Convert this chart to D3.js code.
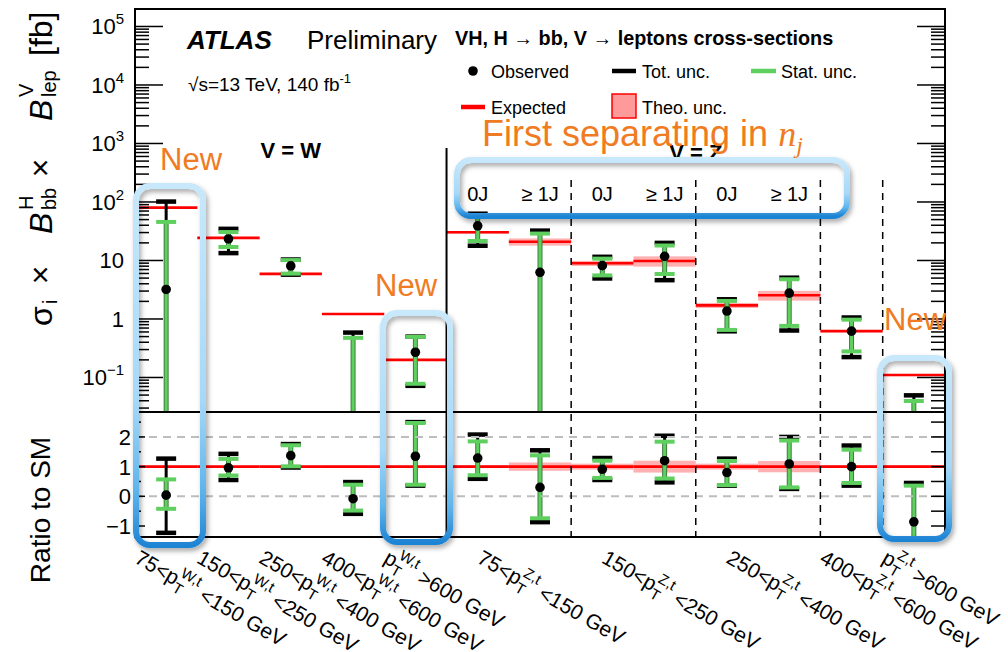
<!DOCTYPE html>
<html>
<head>
<meta charset="utf-8">
<script src="https://cdn.jsdelivr.net/npm/d3@7"></script>
<style>
  body { margin: 0; background: #fff; }
  svg { display: block; }
</style>
</head>
<body>
<script>
// bins: 5 W bins, 8 Z bins
const binNames = ["W 75-150", "W 150-250", "W 250-400", "W 400-600", "W >600",
  "Z 75-150 0J", "Z 75-150 1J", "Z 150-250 0J", "Z 150-250 1J",
  "Z 250-400 0J", "Z 250-400 1J", "Z 400-600", "Z >600"];
// expected cross-sections [fb]
const expected = [80, 24.3, 5.9, 1.22, 0.20, 30.3, 20.9, 8.96, 9.8, 1.71, 2.54, 0.62, 0.11];
// relative theory uncertainty
const theoUnc = [0.03, 0.03, 0.03, 0.03, 0.03, 0.05, 0.14, 0.10, 0.20, 0.10, 0.19, 0.04, 0.04];
// ratio to SM (observed) and uncertainty bounds
const mu = [0.04, 0.96, 1.37, -0.08, 1.35, 1.29, 0.30, 0.91, 1.20, 0.80, 1.09, 1.00, -0.86];
const totLo = [-1.23, 0.55, 0.97, -0.59, 0.36, 0.59, -0.87, 0.55, 0.47, 0.36, 0.25, 0.36, -2.4];
const totHi = [1.27, 1.43, 1.76, 0.48, 2.50, 2.08, 1.55, 1.29, 2.04, 1.27, 2.00, 1.71, 0.45];
const statLo = [-0.42, 0.70, 1.01, -0.48, 0.39, 0.71, -0.74, 0.62, 0.60, 0.38, 0.30, 0.45, -2.3];
const statHi = [0.57, 1.26, 1.72, 0.39, 2.47, 1.85, 1.38, 1.20, 1.84, 1.19, 1.88, 1.57, 0.36];

// x labels (bin-unit centres)
const labelPre = ["75<", "150<", "250<", "400<", "", "75<", "150<", "250<", "400<", ""];
const labelSup = ["W,t", "W,t", "W,t", "W,t", "W,t", "Z,t", "Z,t", "Z,t", "Z,t", "Z,t"];
const labelPost = [" <150 GeV", " <250 GeV", " <400 GeV", " <600 GeV", " >600 GeV",
  " <150 GeV", " <250 GeV", " <400 GeV", " <600 GeV", " >600 GeV"];
const labelPos = [0.5, 1.5, 2.5, 3.5, 4.5, 6, 8, 10, 11.5, 12.5];

const jetLabels = ["0J", "\u2265 1J", "0J", "\u2265 1J", "0J", "\u2265 1J"];
const jetBins = [5, 6, 7, 8, 9, 10];
const dashedEdges = [7, 9, 11, 12];

const upperTicks = [-1, 0, 1, 2, 3, 4, 5];
const ratioTicks = [-1, 0, 1, 2];

const FF = "'Liberation Sans', Arial, Helvetica, sans-serif";
const ORANGE = "#ef7b22";
const GREEN = "#5fd05f";

const L = 135, R = 945, T = 9, MID = 412, B = 537;

const svg = d3.select("body").append("svg")
  .attr("width", 1008).attr("height", 652)
  .style("font-family", FF);

const x = d3.scaleLinear().domain([0, 13]).range([L, R]);
const yUp = d3.scaleLog().domain([0.0257, 1.99e5]).range([MID, T]);
const yRat = d3.scaleLinear().domain([-1.37, 2.84]).range([B, MID]);

// defs
const defs = svg.append("defs");
const grad = defs.append("linearGradient").attr("id", "boxGrad")
  .attr("x1", 0).attr("y1", 0).attr("x2", 0).attr("y2", 1);
grad.append("stop").attr("offset", "0%").attr("stop-color", "#c8e8fb");
grad.append("stop").attr("offset", "60%").attr("stop-color", "#a6d8f7");
grad.append("stop").attr("offset", "85%").attr("stop-color", "#5db4ec");
grad.append("stop").attr("offset", "100%").attr("stop-color", "#1f84d4");
const filt = defs.append("filter").attr("id", "shadow")
  .attr("x", "-30%").attr("y", "-30%").attr("width", "160%").attr("height", "160%");
filt.append("feDropShadow").attr("dx", 2).attr("dy", 3).attr("stdDeviation", 2.5)
  .attr("flood-color", "#000").attr("flood-opacity", 0.35);
defs.append("clipPath").attr("id", "clipUp").append("rect")
  .attr("x", L).attr("y", T).attr("width", R - L).attr("height", MID - T);
defs.append("clipPath").attr("id", "clipLo").append("rect")
  .attr("x", L).attr("y", MID).attr("width", R - L).attr("height", B - MID);

// ---------- panels content ----------
function drawPanel(clipId, yFn, vals) {
  const g = svg.append("g").attr("clip-path", `url(#${clipId})`);
  // theory band
  g.selectAll(".band").data(vals).enter().append("rect")
    .attr("x", (d, i) => x(i)).attr("width", x(1) - x(0))
    .attr("y", d => yFn(d.expHi)).attr("height", d => yFn(d.expLo) - yFn(d.expHi))
    .attr("fill", "#ff9090").attr("opacity", 0.7);
  // expected line
  g.selectAll(".exp").data(vals).enter().append("line")
    .attr("x1", (d, i) => x(i)).attr("x2", (d, i) => x(i + 1))
    .attr("y1", d => yFn(d.exp)).attr("y2", d => yFn(d.exp))
    .attr("stroke", "#ff0000").attr("stroke-width", 2.6);
  return g;
}

function drawBars(g, yFn, vals) {
  const cx = (d, i) => x(i + 0.5);
  // total
  g.selectAll(".tot").data(vals).enter().append("line")
    .attr("x1", cx).attr("x2", cx)
    .attr("y1", d => yFn(d.totLo)).attr("y2", d => yFn(d.totHi))
    .attr("stroke", "#000").attr("stroke-width", 3);
  ["totLo", "totHi"].forEach(k => {
    g.selectAll(".c" + k).data(vals).enter().append("line")
      .attr("x1", (d, i) => cx(d, i) - 10).attr("x2", (d, i) => cx(d, i) + 10)
      .attr("y1", d => yFn(d[k])).attr("y2", d => yFn(d[k]))
      .attr("stroke", "#000").attr("stroke-width", 4.5);
  });
  // stat
  g.selectAll(".statO").data(vals).enter().append("line")
    .attr("x1", cx).attr("x2", cx)
    .attr("y1", d => yFn(d.statLo)).attr("y2", d => yFn(d.statHi))
    .attr("stroke", "#3f7d3f").attr("stroke-width", 5);
  g.selectAll(".stat").data(vals).enter().append("line")
    .attr("x1", cx).attr("x2", cx)
    .attr("y1", d => yFn(d.statLo)).attr("y2", d => yFn(d.statHi))
    .attr("stroke", GREEN).attr("stroke-width", 3);
  ["statLo", "statHi"].forEach(k => {
    g.selectAll(".c" + k).data(vals).enter().append("line")
      .attr("x1", (d, i) => cx(d, i) - 10).attr("x2", (d, i) => cx(d, i) + 10)
      .attr("y1", d => yFn(d[k])).attr("y2", d => yFn(d[k]))
      .attr("stroke", GREEN).attr("stroke-width", 4);
  });
}

function drawDots(g, yFn, vals) {
  g.selectAll(".dot").data(vals).enter().append("circle")
    .attr("cx", (d, i) => x(i + 0.5)).attr("cy", d => yFn(d.obs))
    .attr("r", 4.8).attr("fill", "#000");
}

// upper panel values (cross-section = expected x ratio)
const upVals = binNames.map((n, i) => ({
  exp: expected[i],
  expLo: expected[i] * (1 - theoUnc[i]), expHi: expected[i] * (1 + theoUnc[i]),
  obs: expected[i] * mu[i],
  totLo: expected[i] * totLo[i], totHi: expected[i] * totHi[i],
  statLo: expected[i] * statLo[i], statHi: expected[i] * statHi[i]
}));
const loVals = binNames.map((n, i) => ({
  exp: 1, expLo: 1 - theoUnc[i], expHi: 1 + theoUnc[i],
  obs: mu[i], totLo: totLo[i], totHi: totHi[i], statLo: statLo[i], statHi: statHi[i]
}));
const yUpSafe = v => v > 0 ? yUp(v) : MID + 40;

const gUp = drawPanel("clipUp", yUpSafe, upVals);
drawBars(gUp, yUpSafe, upVals);
drawDots(gUp, yUpSafe, upVals);

const gLo = drawPanel("clipLo", yRat, loVals);
drawBars(gLo, yRat, loVals);
// grey dashed lines at 0 and 2
gLo.selectAll(".ref").data([0, 2]).enter().append("line")
  .attr("x1", L).attr("x2", R).attr("y1", d => yRat(d)).attr("y2", d => yRat(d))
  .attr("stroke", "#bdbdbd").attr("stroke-width", 2).attr("stroke-dasharray", "8,6");
drawDots(gLo, yRat, loVals);

// ---------- separators ----------
svg.append("line").attr("x1", x(5)).attr("x2", x(5)).attr("y1", 148).attr("y2", B)
  .attr("stroke", "#000").attr("stroke-width", 2);
svg.selectAll(".dash").data(dashedEdges).enter().append("line")
  .attr("x1", d => x(d)).attr("x2", d => x(d)).attr("y1", 180).attr("y2", B)
  .attr("stroke", "#000").attr("stroke-width", 1.5).attr("stroke-dasharray", "7,6");

// ---------- frames and ticks ----------
svg.append("rect").attr("x", L).attr("y", T).attr("width", R - L).attr("height", B - T)
  .attr("fill", "none").attr("stroke", "#000").attr("stroke-width", 2);
svg.append("line").attr("x1", L).attr("x2", R).attr("y1", MID).attr("y2", MID)
  .attr("stroke", "#000").attr("stroke-width", 2);

const ticksG = svg.append("g").attr("stroke", "#000").attr("stroke-width", 1.5);
const minorUp = [];
for (let k = -2; k <= 5; k++) for (let m = 2; m <= 9; m++) {
  const v = m * Math.pow(10, k);
  if (v > yUp.domain()[0] && v < yUp.domain()[1]) minorUp.push(v);
}
upperTicks.forEach(k => {
  const yy = yUp(Math.pow(10, k));
  ticksG.append("line").attr("x1", L).attr("x2", L + 28).attr("y1", yy).attr("y2", yy);
  ticksG.append("line").attr("x1", R - 28).attr("x2", R).attr("y1", yy).attr("y2", yy);
});
minorUp.forEach(v => {
  const yy = yUp(v);
  ticksG.append("line").attr("x1", L).attr("x2", L + 14).attr("y1", yy).attr("y2", yy);
  ticksG.append("line").attr("x1", R - 14).attr("x2", R).attr("y1", yy).attr("y2", yy);
});
d3.range(-1, 3, 0.5).forEach(v => {
  const yy = yRat(v), major = Number.isInteger(v);
  ticksG.append("line").attr("x1", L).attr("x2", L + (major ? 10 : 6)).attr("y1", yy).attr("y2", yy);
  ticksG.append("line").attr("x1", R - 14).attr("x2", R).attr("y1", yy).attr("y2", yy);
});

// tick labels
upperTicks.forEach(k => {
  const t = svg.append("text").attr("x", 124).attr("y", yUp(Math.pow(10, k)) + 8)
    .attr("text-anchor", "end").attr("font-size", 22);
  if (k === 0) t.text("1");
  else if (k === 1) t.text("10");
  else {
    t.append("tspan").text("10");
    t.append("tspan").attr("dy", -10).attr("font-size", 15)
      .text(k < 0 ? "\u2212" + (-k) : k);
  }
});
ratioTicks.forEach(v => {
  svg.append("text").attr("x", 131).attr("y", yRat(v) + 8)
    .attr("text-anchor", "end").attr("font-size", 22)
    .text(v < 0 ? "\u2212" + (-v) : v);
});

// x labels
labelPre.forEach((pre, i) => {
  const t = svg.append("text")
    .attr("transform", `translate(${x(labelPos[i]) - 33},562) rotate(30)`)
    .attr("font-size", 21);
  t.append("tspan").text(pre + "p");
  t.append("tspan").attr("font-size", 15).attr("dy", 6).text("T");
  t.append("tspan").attr("font-size", 15).attr("dx", -9).attr("dy", -17).text(labelSup[i]);
  t.append("tspan").attr("dy", 11).text(labelPost[i]);
});

// axis titles
const yt = svg.append("g").attr("transform", "translate(52,0) rotate(-90)")
  .attr("font-size", 32);
yt.append("text").attr("x", -326).text("\u03c3");
yt.append("text").attr("x", -304).attr("y", 5).attr("font-size", 20).text("i");
yt.append("text").attr("x", -275).attr("y", -1).attr("text-anchor", "middle").text("\u00d7");
yt.append("text").attr("x", -234).attr("font-style", "italic").text("B");
yt.append("text").attr("x", -210).attr("y", -19).attr("font-size", 20).text("H");
yt.append("text").attr("x", -210).attr("y", 4).attr("font-size", 20).text("bb");
yt.append("text").attr("x", -168).attr("y", -1).attr("text-anchor", "middle").text("\u00d7");
yt.append("text").attr("x", -121).attr("font-style", "italic").text("B");
yt.append("text").attr("x", -97).attr("y", -19).attr("font-size", 20).text("V");
yt.append("text").attr("x", -97).attr("y", 4).attr("font-size", 20).text("lep");
yt.append("text").attr("x", -56).text("[fb]");

svg.append("text").attr("transform", "translate(50,510) rotate(-90)")
  .attr("text-anchor", "middle").attr("font-size", 28).text("Ratio to SM");

// ---------- header text and legend ----------
svg.append("text").attr("x", 187).attr("y", 49).attr("font-size", 26)
  .attr("font-weight", "bold").attr("font-style", "italic").text("ATLAS");
svg.append("text").attr("x", 307).attr("y", 49).attr("font-size", 26).text("Preliminary");
const sq = svg.append("text").attr("x", 188).attr("y", 91).attr("font-size", 19);
sq.append("tspan").text("\u221as=13 TeV, 140 fb");
sq.append("tspan").attr("dy", -8).attr("font-size", 13).text("-1");

const ttl = svg.append("text").attr("x", 455).attr("y", 45).attr("font-size", 19.8)
  .attr("font-weight", "bold");
ttl.append("tspan").text("VH, H");
ttl.append("tspan").attr("font-weight", "normal").text(" \u2192 ");
ttl.append("tspan").text("bb, V");
ttl.append("tspan").attr("font-weight", "normal").text(" \u2192 ");
ttl.append("tspan").text("leptons cross-sections");

const leg = svg.append("g").attr("font-size", 18);
leg.append("circle").attr("cx", 473).attr("cy", 71).attr("r", 4.8).attr("fill", "#000");
leg.append("text").attr("x", 491).attr("y", 78).text("Observed");
leg.append("line").attr("x1", 612).attr("x2", 636).attr("y1", 71).attr("y2", 71)
  .attr("stroke", "#000").attr("stroke-width", 4.5);
leg.append("text").attr("x", 642).attr("y", 78).text("Tot. unc.");
leg.append("line").attr("x1", 751).attr("x2", 776).attr("y1", 71).attr("y2", 71)
  .attr("stroke", GREEN).attr("stroke-width", 4.5);
leg.append("text").attr("x", 781).attr("y", 78).text("Stat. unc.");
leg.append("line").attr("x1", 461).attr("x2", 485).attr("y1", 107).attr("y2", 107)
  .attr("stroke", "#ff0000").attr("stroke-width", 4.5);
leg.append("text").attr("x", 491).attr("y", 114).text("Expected");
leg.append("rect").attr("x", 612).attr("y", 94).attr("width", 24).attr("height", 24)
  .attr("fill", "#ff9a9a").attr("stroke", "#ff0000").attr("stroke-width", 1.5);
leg.append("text").attr("x", 642).attr("y", 114).text("Theo. unc.");

svg.append("text").attr("x", (x(0) + x(5)) / 2).attr("y", 158).attr("text-anchor", "middle")
  .attr("font-size", 22).attr("font-weight", "bold").text("V = W");
svg.append("text").attr("x", (x(5) + x(13)) / 2).attr("y", 160).attr("text-anchor", "middle")
  .attr("font-size", 22).attr("font-weight", "bold").text("V = Z");

svg.selectAll(".jet").data(jetLabels).enter().append("text")
  .attr("x", (d, i) => x(jetBins[i] + 0.5)).attr("y", 201)
  .attr("text-anchor", "middle").attr("font-size", 20).text(d => d);

// ---------- highlight boxes ----------
const boxes = [
  [136, 186, 67, 359], [383, 313, 67, 229], [880, 358, 69, 181], [457, 160, 390, 56]
];
svg.selectAll(".hl").data(boxes).enter().append("rect")
  .attr("x", d => d[0]).attr("y", d => d[1]).attr("width", d => d[2]).attr("height", d => d[3])
  .attr("rx", 14).attr("fill", "none").attr("stroke", "url(#boxGrad)")
  .attr("stroke-width", 6).attr("filter", "url(#shadow)");

// annotations
const news = [[160, 170], [375, 296], [884, 330]];
svg.selectAll(".new").data(news).enter().append("text")
  .attr("x", d => d[0]).attr("y", d => d[1]).attr("font-size", 31)
  .attr("fill", ORANGE).text("New");
const fs = svg.append("text").attr("x", 482).attr("y", 146).attr("font-size", 36)
  .attr("fill", ORANGE);
fs.append("tspan").text("First separating in ");
fs.append("tspan").attr("font-family", "'Liberation Serif', 'DejaVu Serif', serif")
  .attr("font-style", "italic").attr("font-size", 36).text("n");
fs.append("tspan").attr("font-family", "'Liberation Serif', 'DejaVu Serif', serif")
  .attr("font-style", "italic").attr("font-size", 24).attr("dy", 7).text("j");
</script>
</body>
</html>
